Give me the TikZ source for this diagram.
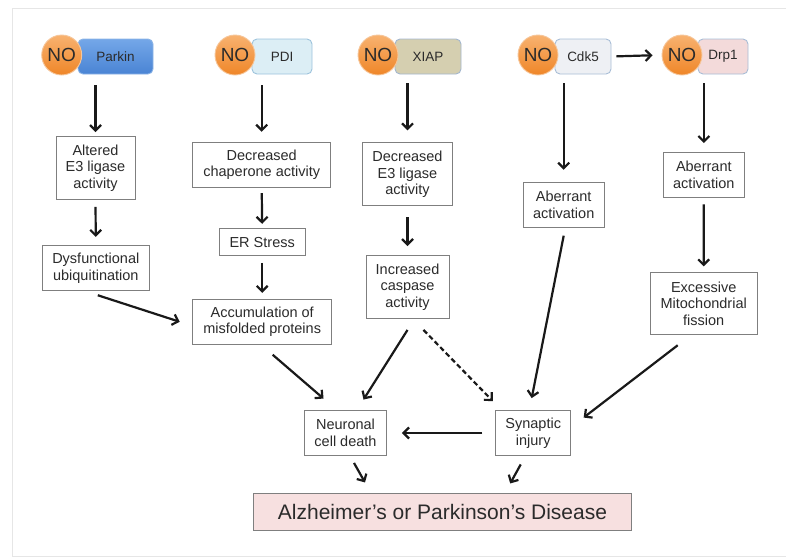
\documentclass[tikz,border=0pt]{standalone}
\usepackage{fontspec}
\setmainfont{Liberation Sans}
\usetikzlibrary{arrows.meta,calc}
\definecolor{txt}{HTML}{2B2B2B}
\definecolor{boxgray}{HTML}{7F7F7F}
\definecolor{notop}{HTML}{F8B270}
\definecolor{nobot}{HTML}{EF8628}
\definecolor{nobord}{HTML}{F6C69A}
\definecolor{parktop}{HTML}{74A7E8}
\definecolor{parkbot}{HTML}{4A84D4}
\definecolor{parkbord}{HTML}{8DB5E6}
\definecolor{pdifill}{HTML}{DCEEF5}
\definecolor{pdibord}{HTML}{9DC3DC}
\definecolor{xiapfill}{HTML}{D5CFB0}
\definecolor{xiapbord}{HTML}{A3B6CE}
\definecolor{cdkfill}{HTML}{EEF0F4}
\definecolor{cdkbord}{HTML}{A8BDD6}
\definecolor{drpfill}{HTML}{F3DADA}
\definecolor{drpbord}{HTML}{A8BDD6}
\definecolor{disfill}{HTML}{F7E0E0}
\definecolor{framecol}{HTML}{E6E6E6}
\begin{document}
\begin{tikzpicture}[x=1pt,y=-1pt,
  box/.style={draw=boxgray, line width=0.9pt, fill=white, text=txt, align=center, inner sep=0pt,
    font=\fontsize{14.5}{16.7}\selectfont},
  arr/.style={line width=2.2pt, draw=black!90, -{Straight Barb[length=5.5pt,width=11pt]}},
  nocirc/.style={circle, minimum size=40pt, inner sep=0pt, draw=nobord, line width=0.9pt,
    top color=notop, bottom color=nobot, text=txt, font=\fontsize{19}{19}\selectfont},
  prot/.style={rounded corners=5pt, minimum height=35pt, inner sep=0pt, line width=0.9pt,
    text=txt, font=\fontsize{13.5}{14}\selectfont}]
\useasboundingbox (0,0) rectangle (786,558);
\draw[framecol, line width=0.8pt] (786,8.3) -- (12.7,8.3) -- (12.7,556.7) -- (786,556.7);

% top row
\node[prot, draw=parkbord, top color=parktop, bottom color=parkbot, minimum width=75pt] (parkin) at (115.5,56.5) {Parkin};
\node[nocirc] (no1) at (61.7,55) {NO};
\node[prot, draw=pdibord, fill=pdifill, minimum width=60pt] (pdi) at (282,56.5) {PDI};
\node[nocirc] (no2) at (235,55) {NO};
\node[prot, draw=xiapbord, fill=xiapfill, minimum width=66pt] (xiap) at (428,56.5) {XIAP};
\node[nocirc] (no3) at (378,55) {NO};
\node[prot, draw=cdkbord, fill=cdkfill, minimum width=56pt] (cdk) at (583,56.5) {Cdk5};
\node[nocirc] (no4) at (538,55) {NO};
\node[prot, draw=drpbord, fill=drpfill, minimum width=50pt] (drp) at (723,56.5) {Drp1};
\node[nocirc] (no5) at (682,55) {NO};

% boxes
\node[box, minimum width=79pt, minimum height=63pt] (a1) at (95.5,168) {Altered\\E3 ligase\\activity};
\node[box, minimum width=138pt, minimum height=45pt] (chap) at (261.7,164.7) {Decreased\\chaperone activity};
\node[box, minimum width=90pt, minimum height=63pt] (dec) at (407.5,174.3) {Decreased\\E3 ligase\\activity};
\node[box, minimum width=81pt, minimum height=45pt] (ab1) at (563.7,204.7) {Aberrant\\activation};
\node[box, minimum width=81pt, minimum height=45pt] (ab2) at (703.8,175) {Aberrant\\activation};
\node[box, minimum width=107pt, minimum height=45pt] (dys) at (95.8,268.3) {Dysfunctional\\ubiquitination};
\node[box, minimum width=86pt, minimum height=27pt] (er) at (262.2,242.3) {ER Stress};
\node[box, minimum width=83pt, minimum height=63pt] (cas) at (407.5,287) {Increased\\caspase\\activity};
\node[box, minimum width=107pt, minimum height=62pt] (mito) at (703.7,303.8) {Excessive\\Mitochondrial\\fission};
\node[box, minimum width=139pt, minimum height=45pt] (acc) at (262.2,321.8) {Accumulation of\\misfolded proteins};
\node[box, minimum width=82pt, minimum height=45pt] (neu) at (345.5,433) {Neuronal\\cell death};
\node[box, minimum width=75pt, minimum height=45pt] (syn) at (533.2,433) {Synaptic\\injury};
\node[box, fill=disfill, minimum width=378pt, minimum height=37pt, font=\fontsize{21}{21}\selectfont] (dis) at (442.5,512.3) {Alzheimer’s or Parkinson’s Disease};

% top arrows
\draw[arr, shorten <=11pt, shorten >=4pt] (parkin.south -| a1.north) -- (a1.north);
\draw[arr, shorten <=11pt, shorten >=10pt] (pdi.south -| chap.north) -- (chap.north);
\draw[arr, shorten <=9pt, shorten >=12pt] (xiap.south -| dec.north) -- (dec.north);
\draw[arr, shorten <=9pt, shorten >=12pt] (cdk.south -| ab1.north) -- (ab1.north);
\draw[arr, shorten <=9pt, shorten >=9pt] (drp.south -| ab2.north) -- (ab2.north);
\draw[arr, shorten <=5pt, shorten >=9pt] (cdk.east) -- (no5.west);

% vertical chains
\draw[arr, shorten <=7pt, shorten >=8.5pt] (a1.south) -- (dys.north);
\draw[arr, shorten <=5.5pt, shorten >=4.5pt] (chap.south) -- (er.north);
\draw[arr, shorten <=6.5pt, shorten >=6pt] (er.south) -- (acc.north);
\draw[arr, shorten <=11pt, shorten >=9pt] (dec.south) -- (cas.north);
\draw[arr, shorten <=6.5pt, shorten >=6pt] (ab2.south) -- (mito.north);

% diagonal arrows
\draw[arr] ([shift={(2pt,-4pt)}]dys.south) -- ([xshift=-12.5pt]acc.west);
\draw[arr] ([shift={(10.5pt,-10pt)}]acc.south) -- ([shift={(-22pt,11.5pt)}]neu.north);
\draw[arr] ([shift={(0pt,-11pt)}]cas.south) -- ([shift={(18pt,10.5pt)}]neu.north);
\draw[arr, dash pattern=on 5pt off 3pt] ([shift={(16pt,-11pt)}]cas.south) -- ([shift={(-2.5pt,9pt)}]syn.north west);
\draw[arr] ([shift={(0pt,-8pt)}]ab1.south) -- ([shift={(-1.5pt,12pt)}]syn.north);
\draw[arr] ([shift={(-26pt,-10pt)}]mito.south) -- ([shift={(12.5pt,-7.5pt)}]syn.north east);
\draw[arr] ([xshift=-13pt]syn.west) -- ([xshift=15pt]neu.east);
\draw[arr] ([shift={(8.5pt,-7pt)}]neu.south) -- ([shift={(19.5pt,-26.5pt)}]neu.south);
\draw[arr] ([shift={(-12.5pt,-8.5pt)}]syn.south) -- ([shift={(-23pt,-27.5pt)}]syn.south);
\end{tikzpicture}
\end{document}
